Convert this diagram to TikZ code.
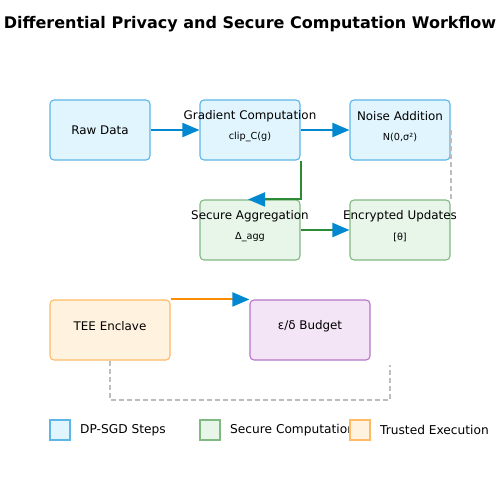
\documentclass[tikz,border=0pt]{standalone}
\usepackage{fontspec}
\setmainfont{DejaVu Sans}
\usepackage{xcolor}
\usepackage{tikz}
\usetikzlibrary{shapes,arrows,arrows.meta,positioning,calc}
\definecolor{dpfill}{HTML}{E1F5FE}
\definecolor{dpdraw}{HTML}{5DB6E6}
\definecolor{secfill}{HTML}{E8F5E9}
\definecolor{secdraw}{HTML}{81B983}
\definecolor{teefill}{HTML}{FFF3E0}
\definecolor{teedraw}{HTML}{FFBA66}
\definecolor{budgetfill}{HTML}{F3E5F5}
\definecolor{budgetdraw}{HTML}{B774C9}
\definecolor{flowblue}{HTML}{0288D1}
\definecolor{flowgreen}{HTML}{2E8B35}
\definecolor{floworange}{HTML}{FB8C00}
\definecolor{dashgray}{HTML}{BDBDBD}

\begin{document}
\begin{tikzpicture}[
    x=1pt, y=-1pt,
    box/.style={rectangle, rounded corners=4pt, line width=1.1pt, minimum width=100pt,
                minimum height=60pt, inner sep=0pt},
    dpbox/.style={box, draw=dpdraw, fill=dpfill},
    secbox/.style={box, draw=secdraw, fill=secfill},
    teebox/.style={box, draw=teedraw, fill=teefill, minimum width=120pt},
    budgetbox/.style={box, draw=budgetdraw, fill=budgetfill, minimum width=120pt},
    boxtext/.style={font=\fontsize{11.9}{14}\selectfont, inner sep=0pt},
    subtext/.style={font=\fontsize{9.7}{11}\selectfont, inner sep=0pt},
    heading/.style={font=\fontsize{16}{19}\selectfont\bfseries, inner sep=0pt},
    flow/.style={line width=2pt, -{Triangle[length=17pt,width=14pt,color=flowblue]}},
    dashline/.style={draw=dashgray, line width=2pt, dash pattern=on 5pt off 3pt},
    legendbox/.style={rectangle, minimum size=20pt, line width=1.1pt, inner sep=0pt},
    legendtext/.style={font=\fontsize{12.2}{14}\selectfont, anchor=west, inner sep=0pt}
]
    \useasboundingbox (0,0) rectangle (500,500);

    % Title
    \node[heading] (title) at (250,24) {Differential Privacy and Secure Computation Workflow};

    % DP-SGD steps
    \node[dpbox] (rawdata) at (100,130) {};
    \node[dpbox] (gradient) at (250,130) {};
    \node[dpbox] (noise) at (400,130) {};
    \node[boxtext] (rawdatatext) at (rawdata.center) {Raw Data};
    \node[boxtext] (gradienttext) at (250,116) {Gradient Computation};
    \node[subtext] (gradientsub) at (250,137) {clip\_C(g)};
    \node[boxtext] (noisetext) at (400,116) {Noise Addition};
    \node[subtext] (noisesub) at (400,137) {N(0,σ²)};

    % Secure computation
    \node[secbox] (secagg) at (250,230) {};
    \node[secbox] (encrypted) at (400,230) {};
    \node[boxtext] (secaggtext) at (250,216) {Secure Aggregation};
    \node[subtext] (secaggsub) at (250,237) {Δ\_agg};
    \node[boxtext] (encryptedtext) at (400,216) {Encrypted Updates};
    \node[subtext] (encryptedsub) at (400,237) {[θ]};

    % Trusted execution and budget
    \node[teebox] (tee) at (110,330) {};
    \node[budgetbox] (budget) at (310,330) {};
    \node[boxtext] (teetext) at (110,326) {TEE Enclave};
    \node[boxtext] (budgettext) at (310,326) {ε/δ Budget};

    % Connections
    \draw[flow, draw=flowblue] (rawdata.east) -- (gradient.west);
    \draw[flow, draw=flowblue] (gradient.east) -- (noise.west);
    \draw[flow, draw=flowgreen] (gradient.south east) -- (secagg.north east) -- ($(secagg.north)+(-2,0)$);
    \draw[flow, draw=flowgreen] (secagg.east) -- (encrypted.west);
    \draw[flow, draw=floworange] (tee.north east) -- (budget.north west);
    \draw[dashline] (noise.east) -- (encrypted.north east);
    \coordinate (loopcorner) at (390,400);
    \coordinate (loopend) at (390,365);
    \draw[dashline] (tee.south) |- (loopcorner) -- (loopend);

    % Legend
    \node[legendbox, draw=dpdraw, fill=dpfill] (legenddp) at (60,430) {};
    \node[legendtext] (legenddptext) at (80,430) {DP-SGD Steps};
    \node[legendbox, draw=secdraw, fill=secfill] (legendsec) at (210,430) {};
    \node[legendtext] (legendsectext) at (230,430) {Secure Computation};
    \node[legendbox, draw=teedraw, fill=teefill] (legendtee) at (360,430) {};
    \node[legendtext] (legendteetext) at (380,430) {Trusted Execution};
\end{tikzpicture}
\end{document}
